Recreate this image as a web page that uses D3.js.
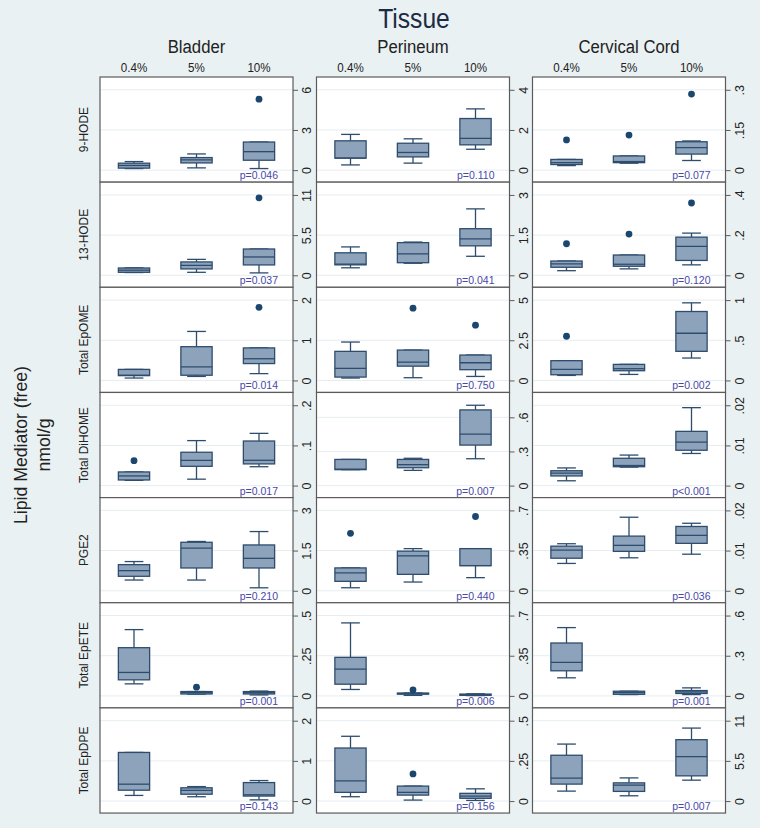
<!DOCTYPE html>
<html><head><meta charset="utf-8">
<script src="https://cdn.jsdelivr.net/npm/d3@7"></script>
<style>body{margin:0;background:#eaf1f3} svg{display:block}</style>
</head><body><svg id="c" width="760" height="828"></svg>
<script>
// ---------- DATA ----------
const tissues = ["Bladder", "Perineum", "Cervical Cord"];
const concentrations = ["0.4%", "5%", "10%"];
const mediators = ["9-HODE", "13-HODE", "Total EpOME", "Total DiHOME", "PGE2", "Total EpETE", "Total EpDPE"];

// box stats per tissue, per concentration: [lowWhisker, q1, median, q3, highWhisker, outliers]
const hode9 = [
  [[0.12,0.15,0.35,0.52,0.64,[]], [0.17,0.54,0.76,0.94,1.21,[]], [0.12,0.74,1.38,2.10,2.10,[5.3]]],
  [[0.26,0.60,0.60,1.46,1.78,[]], [0.35,0.66,0.88,1.34,1.56,[]], [1.04,1.26,1.58,2.57,3.05,[]]],
  [[0.017,0.021,0.028,0.040,0.040,[0.113]], [0.026,0.028,0.032,0.053,0.053,[0.131]], [0.036,0.060,0.084,0.106,0.109,[0.284]]]
];
const hode13 = [
  [[0.38,0.41,0.70,1.0,1.02,[]], [0.41,0.87,1.36,1.83,2.18,[]], [0.33,1.42,2.51,3.6,3.6,[10.6]]],
  [[0.28,0.39,0.42,0.84,1.06,[]], [0.45,0.47,0.80,1.22,1.24,[]], [0.71,1.10,1.36,1.74,2.48,[]]],
  [[0.023,0.040,0.057,0.071,0.071,[0.157]], [0.032,0.045,0.055,0.101,0.101,[0.205]], [0.052,0.074,0.144,0.190,0.210,[0.36]]]
];
const epome = [
  [[0.06,0.12,0.13,0.275,0.275,[]], [0.10,0.13,0.34,0.84,1.22,[]], [0.17,0.42,0.54,0.81,0.81,[1.82]]],
  [[0.15,0.21,0.75,1.81,2.39,[]], [0.17,0.89,1.14,1.89,1.89,[4.5]], [0.25,0.67,1.10,1.58,1.58,[3.44]]],
  [[0.0625,0.071,0.1375,0.246,0.246,[0.55]], [0.075,0.121,0.146,0.2,0.2,[]], [0.279,0.3625,0.5875,0.858,0.966,[]]]
];
const dihome = [
  [[0.013,0.014,0.024,0.034,0.034,[0.062]], [0.016,0.048,0.063,0.083,0.112,[]], [0.047,0.054,0.063,0.111,0.130,[]]],
  [[0.14,0.14,0.145,0.23,0.23,[]], [0.134,0.157,0.184,0.230,0.24,[]], [0.236,0.356,0.452,0.665,0.706,[]]],
  [[0.0012,0.0024,0.0031,0.0037,0.0044,[]], [0.0046,0.0047,0.005,0.0068,0.0076,[]], [0.008,0.0088,0.0108,0.0135,0.0194,[]]]
];
const pge2 = [
  [[0.40,0.54,0.75,0.975,1.09,[]], [0.40,0.85,1.59,1.81,1.84,[]], [0.11,0.85,1.21,1.71,2.21,[]]],
  [[0.026,0.082,0.155,0.199,0.199,[0.50]], [0.076,0.143,0.304,0.345,0.367,[]], [0.114,0.219,0.219,0.367,0.367,[0.647]]],
  [[0.0068,0.0081,0.0101,0.0111,0.0117,[]], [0.0082,0.0098,0.0113,0.0136,0.0183,[]], [0.0091,0.0118,0.0138,0.016,0.0168,[]]]
];
const epete = [
  [[0.075,0.10,0.146,0.30,0.4125,[]], [0.011,0.012,0.02,0.027,0.027,[0.054]], [0.006,0.012,0.02,0.027,0.03,[]]],
  [[0.056,0.102,0.234,0.336,0.636,[]], [0.005,0.015,0.02,0.025,0.025,[0.053]], [0.003,0.005,0.01,0.016,0.018,[]]],
  [[0.135,0.1875,0.25,0.395,0.51,[]], [0.010,0.012,0.025,0.035,0.035,[]], [0.01,0.018,0.03,0.04,0.06,[]]]
];
const epdpe = [
  [[0.14,0.27,0.42,1.21,1.21,[]], [0.107,0.17,0.265,0.33,0.36,[]], [0.03,0.124,0.156,0.46,0.51,[]]],
  [[0.027,0.054,0.126,0.33,0.403,[]], [0.006,0.037,0.054,0.093,0.093,[0.169]], [0.004,0.017,0.031,0.048,0.076,[]]],
  [[1.36,2.32,3.13,6.27,7.8,[]], [0.72,1.32,2.18,2.49,3.17,[]], [2.86,3.45,6.09,8.4,9.99,[]]]
];
const boxData = [hode9, hode13, epome, dihome, pge2, epete, epdpe];

const pValues = [
  ["p=0.046", "p=0.110", "p=0.077"],
  ["p=0.037", "p=0.041", "p=0.120"],
  ["p=0.014", "p=0.750", "p=0.002"],
  ["p=0.017", "p=0.007", "p<0.001"],
  ["p=0.210", "p=0.440", "p=0.036"],
  ["p=0.001", "p=0.006", "p=0.001"],
  ["p=0.143", "p=0.156", "p=0.007"]
];
const yTicks = [
  [[0,3,6], [0,2,4], [0,0.15,0.3]],
  [[0,5.5,11], [0,1.5,3], [0,0.2,0.4]],
  [[0,1,2], [0,2.5,5], [0,0.5,1]],
  [[0,0.1,0.2], [0,0.3,0.6], [0,0.01,0.02]],
  [[0,1.5,3], [0,0.35,0.7], [0,0.01,0.02]],
  [[0,0.25,0.5], [0,0.35,0.7], [0,0.3,0.6]],
  [[0,1,2], [0,0.25,0.5], [0,5.5,11]]
];

// ---------- LAYOUT ----------
const FONT = "'Liberation Sans Narrow','Arial Narrow','Liberation Sans',Arial,sans-serif";
const colLeft = [100, 316.5, 532.5];
const panelW = 193;
const rowTop0 = 77, rowH = 105.15;
const C = {
  bg: "#eaf1f3", panel: "#ffffff", border: "#5b5b5b", grid: "#e6edf0",
  boxFill: "#8da3bb", boxLine: "#2e4c6d", dot: "#1b466e", ptext: "#4848a8", text: "#222"
};
const fmt = v => (v === 0 ? "0" : d3.format("~g")(v).replace(/^0\./, "."));

const svg = d3.select("#c");
svg.append("rect").attr("width", 760).attr("height", 828).attr("fill", C.bg);

// Titles (slightly condensed horizontally, like the reference face)
svg.append("text").attr("transform", "translate(414,28) scale(0.88,1)").attr("text-anchor", "middle")
  .attr("font-family", FONT).attr("font-size", 28).attr("fill", "#1c2a44").text("Tissue");

const xScales = tissues.map((t, c) =>
  d3.scalePoint().domain(concentrations).range([colLeft[c], colLeft[c] + panelW]).padding(0.544));

tissues.forEach((t, c) => {
  svg.append("text").attr("transform", `translate(${colLeft[c] + panelW / 2},53) scale(0.88,1)`)
    .attr("text-anchor", "middle")
    .attr("font-family", FONT).attr("font-size", 19).attr("fill", C.text).text(t);
  concentrations.forEach(k => {
    svg.append("text").attr("transform", `translate(${xScales[c](k)},72) scale(0.86,1)`)
      .attr("text-anchor", "middle")
      .attr("font-family", FONT).attr("font-size", 13.5).attr("fill", C.text).text(k);
  });
});

const midY = rowTop0 + rowH * mediators.length / 2;
[["Lipid Mediator (free)", 20], ["nmol/g", 43]].forEach(([s, x]) => {
  svg.append("text").attr("transform", `translate(${x},${midY}) rotate(-90) scale(0.93,1)`)
    .attr("text-anchor", "middle").attr("dy", "0.35em")
    .attr("font-family", FONT).attr("font-size", 19).attr("fill", C.text).text(s);
});

mediators.forEach((m, r) => {
  const top = rowTop0 + r * rowH, bottom = top + rowH;
  svg.append("text").attr("transform", `translate(83,${top + rowH / 2}) rotate(-90) scale(0.92,1)`)
    .attr("text-anchor", "middle").attr("dy", "0.35em")
    .attr("font-family", FONT).attr("font-size", 13).attr("fill", C.text).text(m);

  tissues.forEach((t, c) => {
    const left = colLeft[c], right = left + panelW;
    const stats = boxData[r][c];
    const ticks = yTicks[r][c];
    let hi = d3.max(ticks);
    stats.forEach(s => { hi = Math.max(hi, s[4], ...(s[5].length ? s[5] : [0])); });
    const y = d3.scaleLinear().domain([0, hi]).range([bottom - 12, top + 12.8]);
    const x = xScales[c];
    const step = x.step();
    const g = svg.append("g");

    g.append("rect").attr("x", left).attr("y", top).attr("width", panelW).attr("height", rowH)
      .attr("fill", C.panel);
    // gridlines
    g.selectAll(".grid").data(ticks).join("line")
      .attr("x1", left).attr("x2", right).attr("y1", d => y(d)).attr("y2", d => y(d))
      .attr("stroke", C.grid).attr("stroke-width", 1);

    // right axis
    const axis = d3.axisRight(y).tickValues(ticks).tickSize(5).tickFormat(fmt);
    const ag = g.append("g").attr("transform", `translate(${right},0)`).call(axis);
    ag.select(".domain").remove();
    ag.selectAll(".tick line").attr("stroke", C.border);
    ag.selectAll(".tick text")
      .attr("x", 0).attr("dy", null)
      .attr("transform", "translate(14,0) rotate(-90)")
      .attr("text-anchor", "middle").attr("dominant-baseline", "central")
      .attr("font-family", FONT).attr("font-size", 12.5).attr("fill", C.text);

    // boxes
    const bw = step * 0.5, cw = step * 0.3;
    concentrations.forEach((k, i) => {
      const [lo, q1, med, q3, whi, outs] = stats[i];
      const cx = x(k);
      const bg = g.append("g").attr("stroke", C.boxLine).attr("stroke-width", 1.3);
      bg.append("line").attr("x1", cx).attr("x2", cx).attr("y1", y(q3)).attr("y2", y(whi));
      bg.append("line").attr("x1", cx).attr("x2", cx).attr("y1", y(q1)).attr("y2", y(lo));
      bg.append("line").attr("x1", cx - cw / 2).attr("x2", cx + cw / 2).attr("y1", y(whi)).attr("y2", y(whi));
      bg.append("line").attr("x1", cx - cw / 2).attr("x2", cx + cw / 2).attr("y1", y(lo)).attr("y2", y(lo));
      bg.append("rect").attr("x", cx - bw / 2).attr("width", bw)
        .attr("y", y(q3)).attr("height", Math.max(1, y(q1) - y(q3))).attr("fill", C.boxFill);
      bg.append("line").attr("x1", cx - bw / 2).attr("x2", cx + bw / 2).attr("y1", y(med)).attr("y2", y(med));
      outs.forEach(o => {
        g.append("circle").attr("cx", cx).attr("cy", y(o)).attr("r", 3.4).attr("fill", C.dot);
      });
    });

    g.append("text").attr("x", right - 15).attr("y", bottom - 3).attr("text-anchor", "end")
      .attr("font-family", FONT).attr("font-size", 10.5).attr("fill", C.ptext).text(pValues[r][c]);

    g.append("rect").attr("x", left).attr("y", top).attr("width", panelW).attr("height", rowH)
      .attr("fill", "none").attr("stroke", C.border).attr("stroke-width", 1.2);
  });
});
</script></body></html>
